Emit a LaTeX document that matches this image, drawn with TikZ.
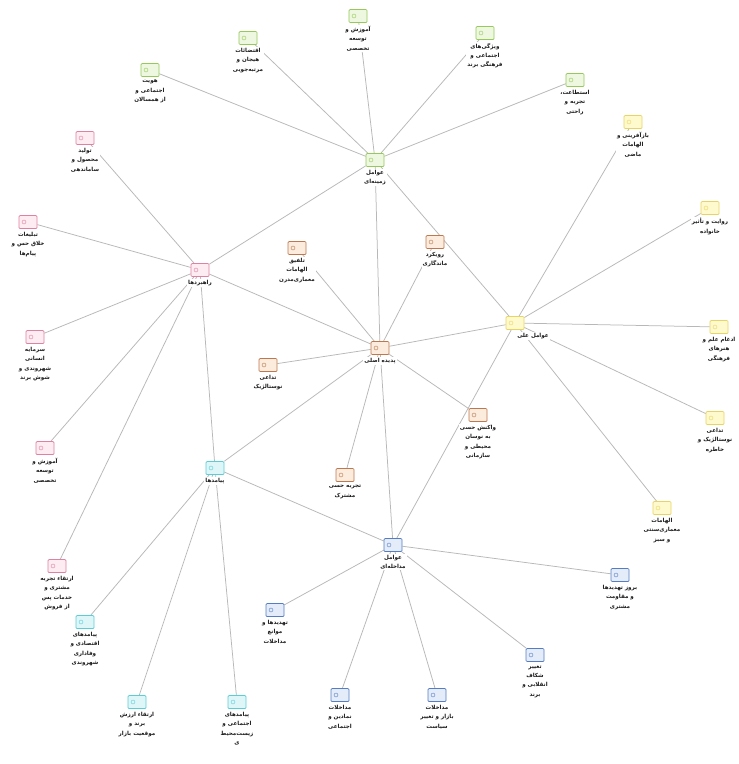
\documentclass[tikz,border=0pt]{standalone}
\usepackage{fontspec}
\newfontfamily\arabicfont[Script=Arabic]{DejaVu Sans}
\TeXXeTstate=1
\usetikzlibrary{positioning,backgrounds}
\definecolor{grnLine}{RGB}{150,200,90}
\definecolor{grnFill}{RGB}{238,247,224}
\definecolor{pnkLine}{RGB}{222,130,160}
\definecolor{pnkFill}{RGB}{253,236,242}
\definecolor{brnLine}{RGB}{190,120,80}
\definecolor{brnFill}{RGB}{251,236,222}
\definecolor{ylwLine}{RGB}{232,212,100}
\definecolor{ylwFill}{RGB}{255,250,205}
\definecolor{cynLine}{RGB}{90,205,215}
\definecolor{cynFill}{RGB}{222,246,248}
\definecolor{bluLine}{RGB}{85,125,195}
\definecolor{bluFill}{RGB}{228,236,250}
\newcommand{\fatx}[1]{{\arabicfont\bfseries\beginR #1\endR}}
\tikzset{
  box/.style={rectangle, minimum width=18pt, minimum height=13pt, inner sep=0pt,
    line width=0.7pt, rounded corners=1pt,
    path picture={\draw[line width=0.4pt] ([xshift=5pt]path picture bounding box.west) circle (2pt);}},
  gbox/.style={box, draw=grnLine, fill=grnFill},
  pbox/.style={box, draw=pnkLine, fill=pnkFill},
  bbox/.style={box, draw=brnLine, fill=brnFill},
  ybox/.style={box, draw=ylwLine, fill=ylwFill},
  cbox/.style={box, draw=cynLine, fill=cynFill},
  mbox/.style={box, draw=bluLine, fill=bluFill},
  lbl/.style={font=\fontsize{5.6}{9.4}\selectfont, align=center, inner sep=1pt, fill=white, text=black!90},
  edge/.style={draw=black!28, line width=0.75pt},
}
\begin{document}
\begin{tikzpicture}[x=1pt,y=-1pt]
  \useasboundingbox (0,0) rectangle (739,764);
  % background (zamineh) factors
  \node[gbox] (z0) at (375,160) {};
  \node[lbl, below=2pt of z0] (z0t) {\fatx{عوامل}\\\fatx{زمینه‌ای}};
  \node[gbox] (z1) at (150,70) {};
  \node[lbl, below=2pt of z1] (z1t) {\fatx{هویت}\\\fatx{اجتماعی و}\\\fatx{از همسالان}};
  \node[gbox] (z2) at (248,38) {};
  \node[lbl, below=2pt of z2] (z2t) {\fatx{اقتضائات}\\\fatx{هیجان و}\\\fatx{مرتبه‌جویی}};
  \node[gbox] (z3) at (358,16) {};
  \node[lbl, below=2pt of z3] (z3t) {\fatx{آموزش و}\\\fatx{توسعه}\\\fatx{تخصصی}};
  \node[gbox] (z4) at (485,33) {};
  \node[lbl, below=2pt of z4] (z4t) {\fatx{ویژگی‌های}\\\fatx{اجتماعی و}\\\fatx{فرهنگی برند}};
  \node[gbox] (z5) at (575,80) {};
  \node[lbl, below=2pt of z5] (z5t) {\fatx{استطاعت،}\\\fatx{تجربه و}\\\fatx{راحتی}};
  % strategies
  \node[pbox] (r0) at (200,270) {};
  \node[lbl, below=2pt of r0] (r0t) {\fatx{راهبردها}};
  \node[pbox] (r1) at (85,138) {};
  \node[lbl, below=2pt of r1] (r1t) {\fatx{تولید}\\\fatx{محصول و}\\\fatx{ساماندهی}};
  \node[pbox] (r2) at (28,222) {};
  \node[lbl, below=2pt of r2] (r2t) {\fatx{تبلیغات}\\\fatx{خلاق حس و}\\\fatx{پیام‌ها}};
  \node[pbox] (r3) at (35,337) {};
  \node[lbl, below=2pt of r3] (r3t) {\fatx{سرمایه}\\\fatx{انسانی}\\\fatx{شهروندی و}\\\fatx{شوش برند}};
  \node[pbox] (r4) at (45,448) {};
  \node[lbl, below=2pt of r4] (r4t) {\fatx{آموزش و}\\\fatx{توسعه}\\\fatx{تخصصی}};
  \node[pbox] (r5) at (57,566) {};
  \node[lbl, below=2pt of r5] (r5t) {\fatx{ارتقاء تجربه}\\\fatx{مشتری و}\\\fatx{خدمات پس}\\\fatx{از فروش}};
  % core phenomenon
  \node[bbox] (p0) at (380,348) {};
  \node[lbl, below=2pt of p0] (p0t) {\fatx{پدیده اصلی}};
  \node[bbox] (p1) at (297,248) {};
  \node[lbl, below=2pt of p1] (p1t) {\fatx{تلفیق}\\\fatx{الهامات}\\\fatx{معماری‌مدرن}};
  \node[bbox] (p2) at (435,242) {};
  \node[lbl, below=2pt of p2] (p2t) {\fatx{رویکرد}\\\fatx{ماندگاری}};
  \node[bbox] (p3) at (268,365) {};
  \node[lbl, below=2pt of p3] (p3t) {\fatx{تداعی}\\\fatx{نوستالژیک}};
  \node[bbox] (p4) at (478,415) {};
  \node[lbl, below=2pt of p4] (p4t) {\fatx{واکنش حسی}\\\fatx{به نوسان}\\\fatx{محیطی و}\\\fatx{سازمانی}};
  \node[bbox] (p5) at (345,475) {};
  \node[lbl, below=2pt of p5] (p5t) {\fatx{تجربه حسی}\\\fatx{مشترک}};
  % causal factors
  \node[ybox] (a0) at (515,323) {};
  \node[lbl, below=2pt of a0, xshift=18pt] (a0t) {\fatx{عوامل علی}};
  \node[ybox] (a1) at (633,122) {};
  \node[lbl, below=2pt of a1] (a1t) {\fatx{بازآفرینی و}\\\fatx{الهامات}\\\fatx{ماضی}};
  \node[ybox] (a2) at (710,208) {};
  \node[lbl, below=2pt of a2] (a2t) {\fatx{روایت و تأثیر}\\\fatx{خانواده}};
  \node[ybox] (a3) at (719,327) {};
  \node[lbl, below=2pt of a3] (a3t) {\fatx{ادغام علم و}\\\fatx{هنرهای}\\\fatx{فرهنگی}};
  \node[ybox] (a4) at (715,418) {};
  \node[lbl, below=2pt of a4] (a4t) {\fatx{تداعی}\\\fatx{نوستالژیک و}\\\fatx{خاطره}};
  \node[ybox] (a5) at (662,508) {};
  \node[lbl, below=2pt of a5] (a5t) {\fatx{الهامات}\\\fatx{معماری‌سنتی}\\\fatx{و سبز}};
  % consequences
  \node[cbox] (c0) at (215,468) {};
  \node[lbl, below=2pt of c0] (c0t) {\fatx{پیامدها}};
  \node[cbox] (c1) at (85,622) {};
  \node[lbl, below=2pt of c1] (c1t) {\fatx{پیامدهای}\\\fatx{اقتصادی و}\\\fatx{وفاداری}\\\fatx{شهروندی}};
  \node[cbox] (c2) at (137,702) {};
  \node[lbl, below=2pt of c2] (c2t) {\fatx{ارتقاء ارزش}\\\fatx{برند و}\\\fatx{موقعیت بازار}};
  \node[cbox] (c3) at (237,702) {};
  \node[lbl, below=2pt of c3] (c3t) {\fatx{پیامدهای}\\\fatx{اجتماعی و}\\\fatx{زیست‌محیط}\\\fatx{ی}};
  % intervening factors
  \node[mbox] (m0) at (393,545) {};
  \node[lbl, below=2pt of m0] (m0t) {\fatx{عوامل}\\\fatx{مداخله‌ای}};
  \node[mbox] (m1) at (275,610) {};
  \node[lbl, below=2pt of m1] (m1t) {\fatx{تهدیدها و}\\\fatx{موانع}\\\fatx{مداخلات}};
  \node[mbox] (m2) at (340,695) {};
  \node[lbl, below=2pt of m2] (m2t) {\fatx{مداخلات}\\\fatx{نمادین و}\\\fatx{اجتماعی}};
  \node[mbox] (m3) at (437,695) {};
  \node[lbl, below=2pt of m3] (m3t) {\fatx{مداخلات}\\\fatx{بازار و تغییر}\\\fatx{سیاست}};
  \node[mbox] (m4) at (535,655) {};
  \node[lbl, below=2pt of m4] (m4t) {\fatx{تغییر}\\\fatx{شکاف}\\\fatx{انقلابی و}\\\fatx{برند}};
  \node[mbox] (m5) at (620,575) {};
  \node[lbl, below=2pt of m5] (m5t) {\fatx{بروز تهدیدها}\\\fatx{و مقاومت}\\\fatx{مشتری}};
  % connectors
  \begin{pgfonlayer}{background}
    \fill[white] (0,0) rectangle (739,764);
    \foreach \g in {z,r,p,a,m}
      \foreach \i in {1,...,5}
        \draw[edge] (\g0) -- (\g\i);
    \foreach \i in {1,2,3}
      \draw[edge] (c0) -- (c\i);
    \draw[edge] (z0) -- (r0);
    \draw[edge] (z0) -- (p0);
    \draw[edge] (z0) -- (a0);
    \draw[edge] (r0) -- (p0);
    \draw[edge] (r0) -- (c0);
    \draw[edge] (p0) -- (a0);
    \draw[edge] (p0) -- (m0);
    \draw[edge] (p0) -- (c0);
    \draw[edge] (a0) -- (m0);
    \draw[edge] (c0) -- (m0);
  \end{pgfonlayer}
\end{tikzpicture}
\end{document}
